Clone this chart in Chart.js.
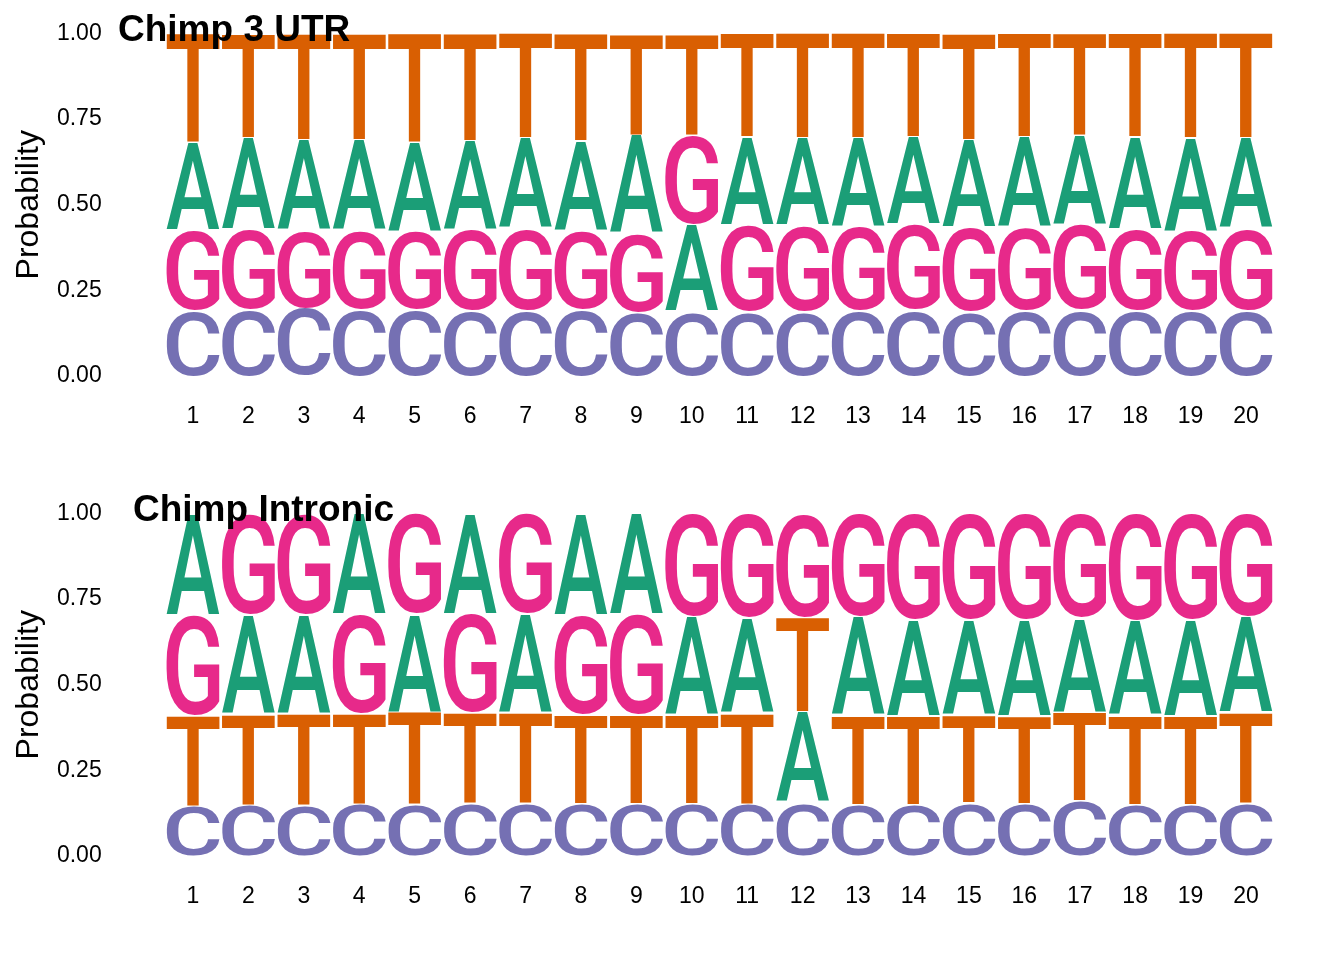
<!DOCTYPE html>
<html>
<head>
<meta charset="utf-8">
<title>Chimp sequence logos</title>
<script src="https://cdn.jsdelivr.net/npm/chart.js@4/dist/chart.umd.min.js"></script>
<style>
  body { margin: 0; background: #fff; }
  .panel { width: 1344px; height: 480px; position: relative; }
</style>
</head>
<body>
<div class="panel"><canvas id="utrChart" width="1344" height="480"></canvas></div>
<div class="panel"><canvas id="intronChart" width="1344" height="480"></canvas></div>
<script>
// positions along the motif
const positions = ['1','2','3','4','5','6','7','8','9','10','11','12','13','14','15','16','17','18','19','20'];
const yTicks = [0, 0.25, 0.5, 0.75, 1];

// Chimp 3 UTR - per-letter probabilities
const utrA = [0.257,0.268,0.263,0.263,0.259,0.259,0.264,0.261,0.288,0.254,0.258,0.257,0.260,0.256,0.256,0.264,0.260,0.270,0.271,0.265];
const utrC = [0.192,0.195,0.198,0.195,0.195,0.192,0.192,0.195,0.185,0.188,0.188,0.188,0.190,0.192,0.188,0.190,0.192,0.190,0.190,0.192];
const utrG = [0.234,0.234,0.228,0.231,0.229,0.237,0.239,0.231,0.231,0.262,0.253,0.251,0.246,0.250,0.246,0.244,0.250,0.239,0.234,0.239];
const utrT = [0.317,0.303,0.311,0.311,0.317,0.312,0.305,0.313,0.296,0.296,0.301,0.304,0.304,0.302,0.310,0.302,0.298,0.301,0.305,0.304];

// Chimp Intronic - per-letter probabilities
const intA = [0.298,0.290,0.290,0.295,0.286,0.293,0.290,0.297,0.295,0.288,0.278,0.265,0.288,0.280,0.276,0.280,0.274,0.276,0.282,0.279];
const intC = [0.146,0.151,0.146,0.153,0.151,0.156,0.156,0.153,0.153,0.153,0.153,0.156,0.151,0.149,0.156,0.154,0.161,0.151,0.149,0.156];
const intG = [0.293,0.296,0.296,0.291,0.293,0.290,0.293,0.291,0.293,0.302,0.305,0.304,0.302,0.312,0.312,0.312,0.305,0.314,0.310,0.302];
const intT = [0.263,0.263,0.268,0.261,0.270,0.261,0.261,0.259,0.259,0.257,0.264,0.275,0.259,0.259,0.256,0.254,0.260,0.259,0.259,0.263];

const letterColors = { A: '#1B9E77', C: '#7570B3', G: '#E7298A', T: '#D95F02' };

Chart.defaults.font.family = '"Liberation Sans", Arial, sans-serif';
Chart.defaults.color = '#000';

// stack letters in each column smallest at the bottom -> floating [lo, hi] ranges
function buildRanges(probs) {
    const letters = Object.keys(probs);
    const out = {};
    letters.forEach(l => out[l] = []);
    for (let i = 0; i < positions.length; i++) {
        const order = letters.slice().sort((a, b) => probs[a][i] - probs[b][i]);
        let acc = 0;
        order.forEach(l => {
            out[l][i] = [acc, acc + probs[l][i]];
            acc += probs[l][i];
        });
    }
    return out;
}

function drawLetter(ctx, ch, color, left, top, w, h) {
    if (w <= 0 || h <= 0) return;
    ctx.save();
    ctx.font = '500 200px Roboto';
    ctx.textAlign = 'left';
    ctx.textBaseline = 'alphabetic';
    const m = ctx.measureText(ch);
    const gw = m.actualBoundingBoxLeft + m.actualBoundingBoxRight;
    const gh = m.actualBoundingBoxAscent + m.actualBoundingBoxDescent;
    ctx.translate(left, top);
    ctx.scale(w / gw, h / gh);
    ctx.fillStyle = color;
    ctx.fillText(ch, m.actualBoundingBoxLeft, m.actualBoundingBoxAscent);
    ctx.restore();
}

const logoLetters = {
    id: 'logoLetters',
    afterDatasetsDraw(chart) {
        const ctx = chart.ctx;
        chart.data.datasets.forEach((ds, di) => {
            const meta = chart.getDatasetMeta(di);
            meta.data.forEach(bar => {
                const p = bar.getProps(['x', 'y', 'base', 'width'], true);
                const top = Math.min(p.y, p.base);
                const h = Math.abs(p.base - p.y);
                drawLetter(ctx, ds.label, letterColors[ds.label], p.x - p.width / 2, top + 0.6, p.width, h - 1.2);
            });
        });
    }
};

const panelTitle = {
    id: 'panelTitle',
    afterDraw(chart, args, opts) {
        const ctx = chart.ctx;
        ctx.save();
        ctx.font = 'bold 37px "Liberation Sans", Arial, sans-serif';
        ctx.fillStyle = '#000';
        ctx.textBaseline = 'alphabetic';
        ctx.fillText(opts.text, opts.left, opts.baseline);
        ctx.restore();
    }
};

function makeLogo(canvasId, probs, title, titleLeft) {
    const ranges = buildRanges(probs);
    const datasets = Object.keys(probs).map(l => ({
        label: l,
        data: ranges[l],
        backgroundColor: 'rgba(0,0,0,0)',
        borderWidth: 0,
        grouped: false,
        barPercentage: 0.957,
        categoryPercentage: 1
    }));

    return new Chart(document.getElementById(canvasId), {
        type: 'bar',
        data: { labels: positions, datasets: datasets },
        options: {
            responsive: false,
            animation: false,
            layout: { padding: { top: 33.5, right: 70.3, bottom: 0, left: 0 } },
            plugins: {
                legend: { display: false },
                tooltip: { enabled: false },
                panelTitle: { text: title, left: titleLeft, baseline: 41 }
            },
            scales: {
                x: {
                    grid: { display: false, drawTicks: false },
                    border: { display: false },
                    ticks: { padding: 27, font: { size: 23 }, color: '#000', maxRotation: 0, autoSkip: false },
                    afterFit: scale => { scale.height = 104; }
                },
                y: {
                    min: 0,
                    max: 1,
                    grid: { display: false, drawTicks: false },
                    border: { display: false },
                    afterBuildTicks: scale => { scale.ticks = yTicks.map(v => ({ value: v })); },
                    ticks: {
                        padding: 63.6,
                        font: { size: 23 },
                        color: '#000',
                        callback: v => Number(v).toFixed(2)
                    },
                    title: {
                        display: true,
                        text: 'Probability',
                        font: { size: 32 },
                        color: '#000',
                        padding: { top: 10, bottom: 0 }
                    },
                    afterFit: scale => {
                        // tick padding would otherwise push the plot area down
                        scale.width = 165.3;
                        scale.paddingTop = 0;
                        scale.paddingBottom = 0;
                    }
                }
            }
        },
        plugins: [logoLetters, panelTitle]
    });
}

makeLogo('utrChart', { A: utrA, C: utrC, G: utrG, T: utrT }, 'Chimp 3 UTR', 118);
makeLogo('intronChart', { A: intA, C: intC, G: intG, T: intT }, 'Chimp Intronic', 133);
</script>
</body>
</html>
